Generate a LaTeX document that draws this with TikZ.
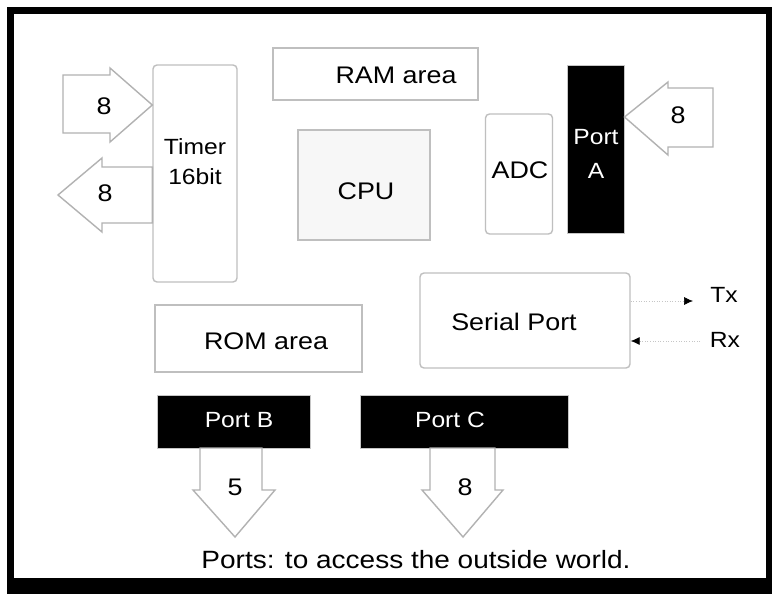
\documentclass[tikz,border=0pt]{standalone}
\usepackage{fontspec}
\setmainfont{Liberation Sans}[FakeStretch=1.12]
\usetikzlibrary{arrows.meta,calc}
\begin{document}
\begin{tikzpicture}[x=1pt,y=-1pt,
  box/.style={draw=gray!50, line width=1.4pt, fill=white, inner sep=0pt},
  rbox/.style={box, rounded corners=4pt},
  blk/.style={fill=black, draw=gray!45, line width=1pt, inner sep=0pt},
  fat/.style={draw=gray!60, line width=1.4pt, fill=white, line join=miter},
  lbl/.style={font=\fontsize{24}{27}\selectfont, inner sep=0pt, align=center, text=black},
  wlbl/.style={lbl, text=white},
  sig/.style={draw=gray!45, line width=0.6pt, dotted, -{Latex[black,length=9pt,width=8pt]}}]
\useasboundingbox (0,0) rectangle (772,600);
% frame
\fill[black] (7,7) rectangle (772,594);
\fill[white] (14,14) rectangle (766,578);
% boxes
\node[box, minimum width=205pt, minimum height=52pt] (ram) at (375.5,74) {};
\node[lbl] (ramt) at (396,75) {RAM area};
\node[rbox, minimum width=84pt, minimum height=217pt] (timer) at (195,173.5) {};
\node[lbl, font=\fontsize{22}{30}\selectfont] (timert) at (195,162) {Timer\\16bit};
\node[box, fill=gray!6, minimum width=132pt, minimum height=110pt] (cpu) at (364,185) {};
\node[lbl] (cput) at (366,191) {CPU};
\node[rbox, minimum width=67pt, minimum height=120pt] (adc) at (519,174) {};
\node[lbl] (adct) at (520,170) {ADC};
\node[blk, minimum width=57pt, minimum height=168pt] (porta) at (595.5,149) {};
\node[wlbl, font=\fontsize{22}{34}\selectfont] (portat) at (596,154) {Port\\A};
\node[rbox, minimum width=210pt, minimum height=95pt] (serial) at (525,320.5) {};
\node[lbl] (serialt) at (514,322) {Serial Port};
\node[box, minimum width=207pt, minimum height=67pt] (rom) at (258.5,338.5) {};
\node[lbl] (romt) at (266,341) {ROM area};
\node[blk, minimum width=153pt, minimum height=53pt] (portb) at (233.5,421.5) {};
\node[wlbl, font=\fontsize{22}{27}\selectfont] (portbt) at (239,420) {Port B};
\node[blk, minimum width=208pt, minimum height=53pt] (portc) at (464,421.5) {};
\node[wlbl, font=\fontsize{22}{27}\selectfont] (portct) at (450,420) {Port C};
% fat arrows
\draw[fat] (63,75) -- (110,75) -- (110,68) -- (timer.west |- 0,105) -- (110,142) -- (110,133) -- (63,133) -- cycle;
\node[lbl] (n1) at (104,106) {8};
\draw[fat] (timer.west |- 0,167) -- (102,167) -- (102,158) -- (58,195) -- (102,232) -- (102,223) -- (timer.west |- 0,223) -- cycle;
\node[lbl] (n2) at (105,193) {8};
\draw[fat] (713,88) -- (668,88) -- (668,82) -- (porta.east |- 0,117) -- (668,155) -- (668,147) -- (713,147) -- cycle;
\node[lbl] (n3) at (678,115) {8};
\draw[fat] (200,448) -- (262,448) -- (262,490) -- (275,490) -- (235,537) -- (193,490) -- (200,490) -- cycle;
\node[lbl] (n4) at (235,487) {5};
\draw[fat] (430,448) -- (495,448) -- (495,490) -- (503,490) -- (463,537) -- (422,490) -- (430,490) -- cycle;
\node[lbl] (n5) at (465,487) {8};
% serial signals
\node[lbl, font=\fontsize{22}{27}\selectfont] (tx) at (724,295) {Tx};
\node[lbl, font=\fontsize{22}{27}\selectfont] (rx) at (725,340) {Rx};
\coordinate (txend) at (693,301);
\coordinate (rxstart) at (700,341);
\draw[sig] (serial.east |- txend) -- (txend);
\draw[sig] (rxstart) -- (serial.east |- rxstart);
% caption
\node[lbl, font=\fontsize{25}{30}\selectfont] (cap) at (416,560) {Ports: to access the outside world.};
\end{tikzpicture}
\end{document}
